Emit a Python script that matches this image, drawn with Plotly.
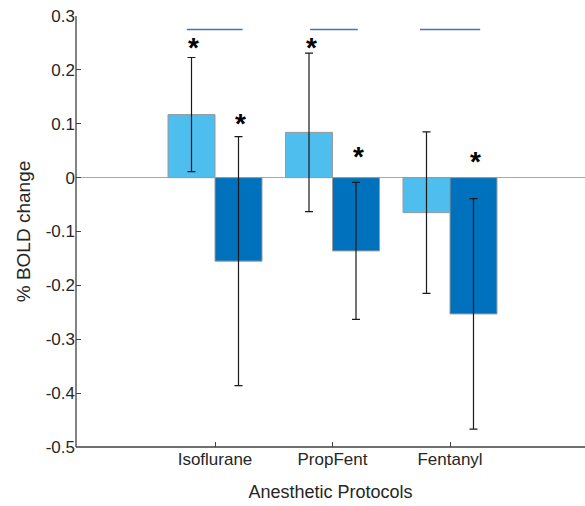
import plotly.graph_objects as go

# Group labels and positions
protocols = ["Isoflurane", "PropFent", "Fentanyl"]
group_pos = [1, 2, 3]

# Mean % BOLD change and error half-widths for the two conditions
light_means = [0.117, 0.084, -0.065]
light_errs = [0.106, 0.147, 0.150]
dark_means = [-0.155, -0.136, -0.253]
dark_errs = [0.231, 0.127, 0.214]

# Significance asterisk heights (None = no asterisk)
star_light_y = [0.252, 0.253, None]
star_dark_y = [0.112, 0.050, 0.041]

# Horizontal comparison lines above each group (x offsets relative to group)
bracket_left = [-0.24, -0.19, -0.255]
bracket_right = [0.235, 0.215, 0.257]
bracket_y = 0.275

y_tickvals = [0.3, 0.2, 0.1, 0, -0.1, -0.2, -0.3, -0.4, -0.5]
y_ticktext = ["0.3", "0.2", "0.1", "0", "-0.1", "-0.2", "-0.3", "-0.4", "-0.5"]

LIGHT = "#4DBEEE"
DARK = "#0072BD"
AXIS = "#404040"
TEXT = "#262626"
FONT = "Liberation Sans"
BAR_W = 0.4

fig = go.Figure()

fig.add_trace(go.Bar(
    x=group_pos, y=light_means, width=BAR_W, offset=-BAR_W,
    marker=dict(color=LIGHT, line=dict(color="#9a9a9a", width=1)),
    showlegend=False,
))
fig.add_trace(go.Bar(
    x=group_pos, y=dark_means, width=BAR_W, offset=0,
    marker=dict(color=DARK, line=dict(color="#9a9a9a", width=1)),
    showlegend=False,
))

# Error bars at the bar centres
light_x = [p - BAR_W / 2 for p in group_pos]
dark_x = [p + BAR_W / 2 for p in group_pos]
for xs, ms, es in [(light_x, light_means, light_errs), (dark_x, dark_means, dark_errs)]:
    fig.add_trace(go.Scatter(
        x=xs, y=ms, mode="markers",
        marker=dict(size=1, color="rgba(0,0,0,0)"),
        error_y=dict(type="data", array=es, visible=True,
                     color="#1a1a1a", thickness=1.2, width=4),
        showlegend=False, hoverinfo="skip",
    ))

# Comparison lines
for p, l, r in zip(group_pos, bracket_left, bracket_right):
    fig.add_trace(go.Scatter(
        x=[p + l, p + r], y=[bracket_y, bracket_y], mode="lines",
        line=dict(color="#4472C4", width=1.5),
        showlegend=False, hoverinfo="skip",
    ))

# Asterisks
annotations = []
for xs, ys in [(light_x, star_light_y), (dark_x, star_dark_y)]:
    for x, y in zip(xs, ys):
        if y is None:
            continue
        annotations.append(dict(
            x=x + 0.02, y=y, xref="x", yref="y", text="<b>*</b>",
            showarrow=False, yanchor="middle", yshift=-6,
            font=dict(family=FONT, size=28, color="#000000"),
        ))

# Left and bottom axis lines only (open box)
axis_shapes = [
    dict(type="line", xref="paper", yref="paper", x0=0, x1=0, y0=0, y1=1,
         line=dict(color=AXIS, width=1.3), layer="above"),
    dict(type="line", xref="paper", yref="paper", x0=0, x1=1, y0=0, y1=0,
         line=dict(color=AXIS, width=1.3), layer="above"),
]

fig.update_layout(
    template="none",
    width=585, height=506,
    margin=dict(l=76, r=0, t=16, b=59),
    plot_bgcolor="white", paper_bgcolor="white",
    barmode="overlay",
    font=dict(family=FONT, size=17, color=TEXT),
    annotations=annotations,
    shapes=axis_shapes,
    xaxis=dict(
        range=[-0.183, 4.149],
        tickvals=group_pos, ticktext=protocols,
        showline=False,
        ticks="inside", ticklen=5, tickcolor=AXIS, tickwidth=1.3,
        showgrid=False, zeroline=False, automargin=False,
        tickfont=dict(family=FONT, size=17, color=TEXT),
        ticklabelstandoff=0,
        title=dict(text="Anesthetic Protocols", standoff=17,
                   font=dict(family=FONT, size=18, color=TEXT)),
    ),
    yaxis=dict(
        range=[-0.5, 0.3],
        tickvals=y_tickvals, ticktext=y_ticktext,
        showline=False,
        ticks="inside", ticklen=5, tickcolor=AXIS, tickwidth=1.3,
        showgrid=False, automargin=False,
        zeroline=True, zerolinecolor="#a8a8a8", zerolinewidth=1,
        tickfont=dict(family=FONT, size=17, color=TEXT),
        title=dict(text="% BOLD change", standoff=10,
                   font=dict(family=FONT, size=19, color=TEXT)),
    ),
)

fig.write_html("out.html")
